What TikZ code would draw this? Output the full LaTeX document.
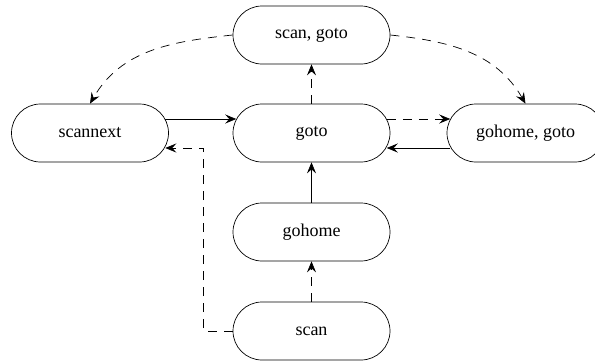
\documentclass[tikz,border=0pt]{standalone}
\usepackage{fontspec}
\setmainfont{Liberation Serif}
\usepackage{tikz}
\usetikzlibrary{shapes.misc,arrows.meta}
\tikzstyle{statebox} = [
    draw,
    rounded rectangle,
    line width=0.7pt,
    minimum width=157pt,
    minimum height=58pt,
    inner sep=0pt,
    font=\fontsize{18}{22}\selectfont
    ]
\tikzstyle{solidlink} = [
    line width=0.7pt,
    -{Stealth[length=11pt,width=9pt,inset=4pt]}
    ]
\tikzstyle{dashlink} = [
    solidlink,
    dash pattern=on 9pt off 7pt
    ]
\begin{document}
\begin{tikzpicture}[x=1pt,y=1pt]
\useasboundingbox (0,0) rectangle (595,-360);
% states
\node[statebox] (scangoto)   at (311.5,-35)  {scan, goto};
\node[statebox] (scannext)   at (90,-133)    {scannext};
\node[statebox] (goto)       at (311.5,-133) {goto};
\node[statebox] (gohomegoto) at (525.5,-133) {gohome, goto};
\node[statebox] (gohome)     at (311.5,-232) {gohome};
\node[statebox] (scan)       at (311.5,-331) {scan};
% links
\draw[solidlink] ([shift={(-3.6pt,14pt)}]scannext.east) -- ([shift={(3.6pt,14pt)}]goto.west);
\draw[dashlink] ([shift={(-3.6pt,14pt)}]goto.east) -- ([shift={(3.6pt,14pt)}]gohomegoto.west);
\draw[solidlink] ([shift={(3.6pt,-15pt)}]gohomegoto.west) -- ([shift={(-3.6pt,-15pt)}]goto.east);
\draw[dashlink] (scan.west) -- ++(-29,0) |- ([shift={(-3.6pt,-15pt)}]scannext.east);
\draw[dashlink] (scan.north) -- (gohome.south);
\draw[solidlink] (gohome.north) -- (goto.south);
\draw[dashlink] (goto.north) -- (scangoto.south);
\draw[dashlink] (scangoto.west) to[out=186,in=60] (scannext.north);
\draw[dashlink] (scangoto.east) to[out=-6,in=120] (gohomegoto.north);
\end{tikzpicture}
\end{document}
